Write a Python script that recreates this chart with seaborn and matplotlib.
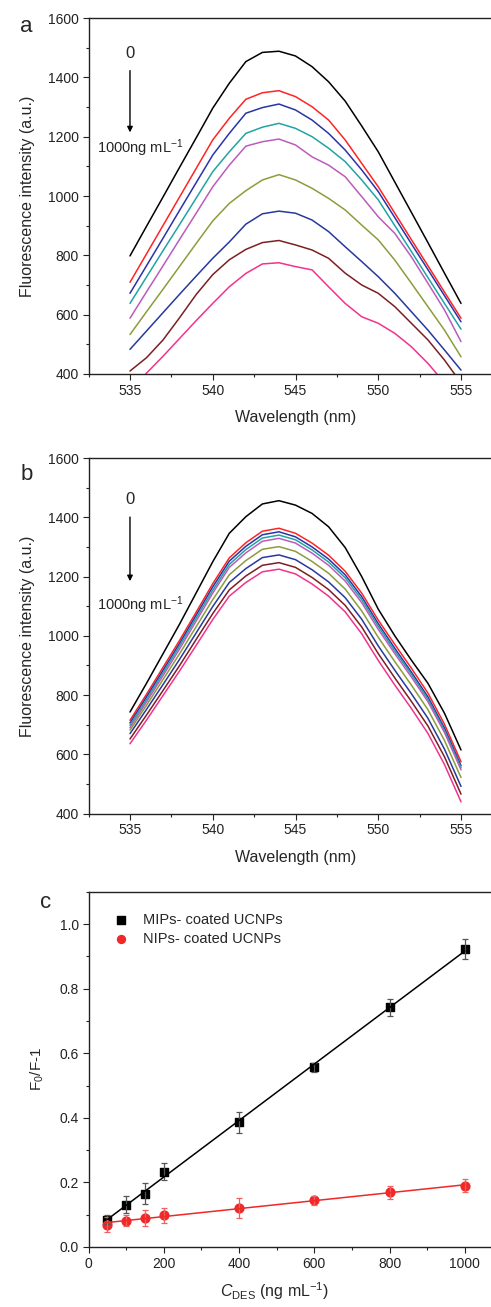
import numpy as np
import pandas as pd
import matplotlib
matplotlib.use('Agg')
import matplotlib.pyplot as plt
from matplotlib.ticker import MultipleLocator
import seaborn as sns

# DATA

wavelength = list(range(535, 556))
conc_labels = ['0', '50', '100', '150', '200', '400', '600', '800', '1000']

# panel a - MIPs-coated UCNPs spectra
spec_a = {
    '0':    [798, 898, 997, 1097, 1196, 1296, 1380, 1453, 1484, 1488, 1472, 1436, 1385, 1320, 1236, 1149, 1047, 945, 843, 740, 638],
    '50':   [709, 805, 901, 997, 1093, 1189, 1262, 1326, 1348, 1355, 1335, 1301, 1256, 1189, 1110, 1031, 942, 853, 765, 676, 588],
    '100':  [672, 765, 858, 952, 1045, 1138, 1211, 1279, 1298, 1310, 1290, 1256, 1211, 1155, 1088, 1015, 927, 839, 752, 664, 576],
    '150':  [638, 727, 816, 904, 993, 1082, 1149, 1211, 1232, 1245, 1228, 1200, 1161, 1116, 1054, 987, 900, 813, 725, 638, 551],
    '200':  [588, 677, 765, 854, 942, 1031, 1104, 1168, 1183, 1192, 1172, 1132, 1104, 1065, 998, 930, 874, 795, 706, 616, 509],
    '400':  [533, 610, 686, 763, 840, 916, 975, 1018, 1054, 1072, 1054, 1026, 992, 953, 902, 852, 784, 706, 627, 548, 458],
    '600':  [483, 545, 607, 669, 730, 790, 845, 905, 940, 949, 942, 919, 880, 829, 779, 728, 672, 610, 548, 481, 413],
    '800':  [410, 455, 515, 590, 668, 735, 785, 820, 843, 850, 835, 818, 790, 740, 700, 672, 627, 571, 515, 447, 370],
    '1000': [340, 403, 460, 520, 580, 638, 694, 739, 771, 775, 762, 751, 694, 638, 593, 571, 537, 492, 436, 370, 310],
}

# panel b - NIPs-coated UCNPs spectra
spec_b = {
    '0':    [743, 840, 940, 1040, 1145, 1250, 1346, 1402, 1445, 1456, 1441, 1413, 1368, 1298, 1200, 1090, 1000, 918, 840, 739, 615],
    '50':   [715, 803, 894, 985, 1080, 1176, 1263, 1314, 1353, 1363, 1346, 1313, 1272, 1218, 1144, 1053, 971, 891, 807, 702, 575],
    '100':  [706, 794, 884, 975, 1070, 1165, 1252, 1302, 1341, 1351, 1334, 1300, 1259, 1206, 1132, 1041, 958, 878, 794, 689, 562],
    '150':  [698, 785, 875, 966, 1060, 1154, 1241, 1291, 1330, 1340, 1324, 1290, 1249, 1196, 1122, 1032, 949, 870, 786, 681, 555],
    '200':  [690, 777, 866, 956, 1050, 1144, 1231, 1280, 1319, 1329, 1313, 1279, 1238, 1185, 1112, 1022, 940, 861, 778, 674, 548],
    '400':  [682, 766, 853, 940, 1031, 1122, 1206, 1254, 1292, 1301, 1285, 1251, 1211, 1158, 1084, 995, 913, 834, 751, 647, 522],
    '600':  [670, 752, 836, 921, 1010, 1099, 1180, 1227, 1264, 1273, 1257, 1223, 1182, 1129, 1056, 966, 884, 805, 722, 618, 492],
    '800':  [652, 733, 816, 900, 988, 1075, 1155, 1202, 1238, 1247, 1231, 1197, 1156, 1103, 1030, 940, 858, 779, 696, 592, 466],
    '1000': [636, 716, 799, 882, 968, 1055, 1134, 1180, 1216, 1225, 1209, 1175, 1134, 1081, 1007, 917, 834, 755, 671, 566, 440],
}

# panel c - F0/F-1 vs concentration
c_des = [50, 100, 150, 200, 400, 600, 800, 1000]
mip_ratio = [0.085, 0.131, 0.165, 0.233, 0.386, 0.556, 0.742, 0.922]
mip_err = [0.015, 0.026, 0.033, 0.026, 0.032, 0.015, 0.026, 0.031]
nip_ratio = [0.069, 0.082, 0.090, 0.098, 0.121, 0.144, 0.169, 0.190]
nip_err = [0.024, 0.018, 0.026, 0.023, 0.031, 0.013, 0.021, 0.019]

curve_colors = ['#000000', '#ff2424', '#2a34a6', '#22a3a3', '#bb5cbb',
                '#8c9c3a', '#27399e', '#7c1f22', '#f2338c']

# STYLE

sns.set_theme(style='ticks')
plt.rcParams['font.family'] = ['Liberation Sans', 'DejaVu Sans']
plt.rcParams['mathtext.fontset'] = 'custom'
plt.rcParams['mathtext.rm'] = 'Liberation Sans'
plt.rcParams['mathtext.it'] = 'Liberation Sans:italic'

fig = plt.figure(figsize=(4.91, 13.07), dpi=100)
W, H = 491, 1307


def add_axes(left, top, width, height):
    return fig.add_axes([left / W, 1 - (top + height) / H, width / W, height / H])


def style_axes(ax):
    ax.tick_params(which='both', direction='out', top=False, right=False,
                   labelsize=10, colors='#222222', width=0.8)
    ax.tick_params(which='major', length=4, pad=3)
    ax.tick_params(which='minor', length=2.5)
    for s in ax.spines.values():
        s.set_linewidth(1.0)
        s.set_color('#222222')


def spectra_panel(ax, spec, letter, letter_y):
    df = pd.DataFrame([
        {'wl': w, 'I': v, 'conc': c}
        for c in conc_labels for w, v in zip(wavelength, spec[c])
    ])
    sns.lineplot(data=df, x='wl', y='I', hue='conc', hue_order=conc_labels,
                 palette=curve_colors, linewidth=1.1, legend=False, ax=ax)
    ax.set_xlim(532.5, 557.5)
    ax.set_ylim(400, 1600)
    ax.xaxis.set_major_locator(MultipleLocator(5))
    ax.xaxis.set_minor_locator(MultipleLocator(2.5))
    ax.yaxis.set_major_locator(MultipleLocator(200))
    ax.yaxis.set_minor_locator(MultipleLocator(100))
    ax.set_xlabel('Wavelength (nm)', fontsize=11.5, labelpad=9)
    ax.set_ylabel('Fluorescence intensity (a.u.)', fontsize=11.5, labelpad=9)
    style_axes(ax)
    ax.text(-0.165, letter_y, letter, transform=ax.transAxes, fontsize=16,
            ha='left', va='center')


# PANEL A

ax_a = add_axes(88.6, 18, 413.8, 356)
spectra_panel(ax_a, spec_a, 'a', 0.975)
ax_a.text(535, 1482, '0', fontsize=12, ha='center', va='center')
ax_a.annotate('', xy=(535, 1205), xytext=(535, 1432),
              arrowprops=dict(arrowstyle='-|>', color='black', lw=1.0,
                              mutation_scale=8))
ax_a.text(533.0, 1160, '1000ng mL$^{-1}$', fontsize=10.5, ha='left', va='center')

# PANEL B

ax_b = add_axes(88.6, 458, 413.8, 355.7)
spectra_panel(ax_b, spec_b, 'b', 0.955)
ax_b.text(535, 1460, '0', fontsize=12, ha='center', va='center')
ax_b.annotate('', xy=(535, 1175), xytext=(535, 1410),
              arrowprops=dict(arrowstyle='-|>', color='black', lw=1.0,
                              mutation_scale=8))
ax_b.text(533.0, 1105, '1000ng mL$^{-1}$', fontsize=10.5, ha='left', va='center')

# PANEL C

ax_c = add_axes(88.6, 891.7, 413.8, 355.3)
ax_c.errorbar(c_des, mip_ratio, yerr=mip_err, fmt='none', ecolor='#555555',
              elinewidth=0.9, capsize=2.5, capthick=0.9)
ax_c.errorbar(c_des, nip_ratio, yerr=nip_err, fmt='none', ecolor='#f06060',
              elinewidth=0.9, capsize=2.5, capthick=0.9)
sns.regplot(x=c_des, y=mip_ratio, ci=None, marker='s', color='black',
            label='MIPs- coated UCNPs',
            scatter_kws={'s': 36, 'alpha': 1},
            line_kws={'linewidth': 1.1}, ax=ax_c)
sns.regplot(x=c_des, y=nip_ratio, ci=None, marker='o', color='#f02828',
            label='NIPs- coated UCNPs',
            scatter_kws={'s': 40, 'alpha': 1},
            line_kws={'linewidth': 1.1}, ax=ax_c)
ax_c.set_xlim(0, 1100)
ax_c.set_ylim(0, 1.1)
ax_c.xaxis.set_major_locator(MultipleLocator(200))
ax_c.xaxis.set_minor_locator(MultipleLocator(100))
ax_c.yaxis.set_major_locator(MultipleLocator(0.2))
ax_c.yaxis.set_minor_locator(MultipleLocator(0.1))
ax_c.yaxis.set_major_formatter(plt.FuncFormatter(lambda v, _: f'{v:.1f}'))
ax_c.set_xlabel('$C_{\\mathregular{DES}}$ (ng mL$^{-1}$)', fontsize=11.5)
ax_c.xaxis.set_label_coords(0.45, -0.093)
ax_c.set_ylabel('F$_0$/F-1', fontsize=11, labelpad=10)
style_axes(ax_c)
ax_c.legend(loc='upper left', frameon=False, fontsize=10.5, handletextpad=0.5,
            borderaxespad=0.3, bbox_to_anchor=(0.018, 0.97), labelspacing=0.35,
            markerscale=0.9)
ax_c.text(-0.117, 0.97, 'c', transform=ax_c.transAxes, fontsize=16,
          ha='left', va='center')

fig.savefig('out.png', dpi=100)
